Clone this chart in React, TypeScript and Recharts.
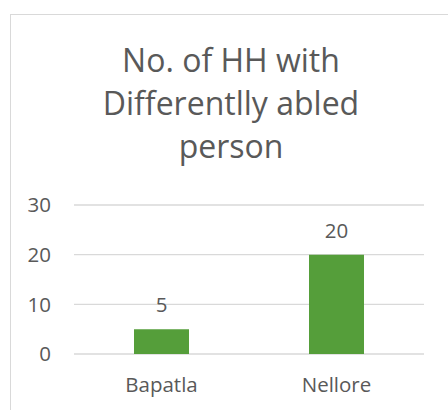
import React from 'react';
import { BarChart, Bar, XAxis, YAxis, CartesianGrid, LabelList } from 'recharts';

const DISTRICTS = ['Bapatla', 'Nellore'];
const HOUSEHOLDS = [5, 20];
const Y_TICKS = [0, 10, 20, 30];
const TITLE_LINES = ['No. of HH with', 'Differentlly abled', 'person'];

const FONT = '"Open Sans", "Noto Sans", sans-serif';
const TEXT = '#595959';
const GRID = '#D9D9D9';
const GREEN = '#559E3A';
const TICK_SIZE = 20.5;

const App: React.FC = () => {
  const data = DISTRICTS.map((name, i) => ({ name, value: HOUSEHOLDS[i] }));

  return (
    <div
      style={{
        position: 'absolute',
        left: 0,
        top: 0,
        width: 448,
        height: 410,
        overflow: 'hidden',
        background: '#fff',
        fontFamily: FONT,
      }}
    >
      {/* chart frame, right and bottom edges fall outside the crop */}
      <div
        style={{
          position: 'absolute',
          left: 10,
          top: 14,
          width: 460,
          height: 420,
          border: `1px solid ${GRID}`,
          boxSizing: 'border-box',
        }}
      />
      <div
        style={{
          position: 'absolute',
          left: 31,
          top: 38,
          width: 400,
          textAlign: 'center',
          fontSize: 32,
          lineHeight: '43px',
          color: TEXT,
        }}
      >
        {TITLE_LINES.map((line) => (
          <div key={line}>{line}</div>
        ))}
      </div>
      <div style={{ position: 'absolute', left: 0, top: 0 }}>
        <BarChart
          width={448}
          height={410}
          data={data}
          margin={{ top: 205, right: 24, bottom: 0, left: 14 }}
        >
          <CartesianGrid vertical={false} stroke={GRID} strokeWidth={1.3} />
          <XAxis
            dataKey="name"
            axisLine={false}
            tickLine={false}
            tickSize={0}
            tickMargin={23}
            height={56}
            tick={{ fill: TEXT, fontSize: TICK_SIZE, fontFamily: FONT }}
          />
          <YAxis
            domain={[0, 30]}
            ticks={Y_TICKS}
            axisLine={false}
            tickLine={false}
            tickSize={0}
            tickMargin={23}
            width={60}
            tick={{ fill: TEXT, fontSize: TICK_SIZE, fontFamily: FONT }}
          />
          <Bar dataKey="value" fill={GREEN} barSize={55} isAnimationActive={false}>
            <LabelList
              dataKey="value"
              position="top"
              offset={17}
              fill={TEXT}
              fontSize={TICK_SIZE}
              fontFamily={FONT}
            />
          </Bar>
        </BarChart>
      </div>
    </div>
  );
};

export default App;
